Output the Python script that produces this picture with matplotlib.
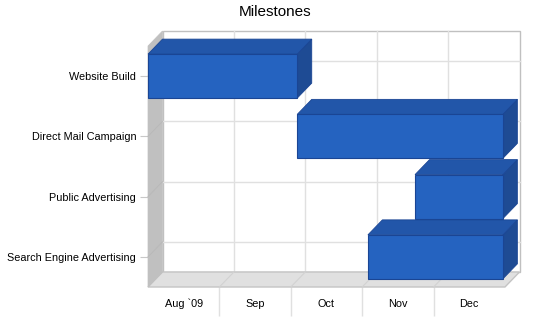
import numpy as np
import matplotlib
matplotlib.use("Agg")
import matplotlib.pyplot as plt
from matplotlib.patches import Polygon, Rectangle

plt.rcParams['font.family'] = ['Liberation Sans', 'DejaVu Sans']

# data (x in months from Aug 1 2009)
tasks = ['Website Build', 'Direct Mail Campaign', 'Public Advertising',
         'Search Engine Advertising']
starts = [0.0, 2.09, 3.74, 3.08]
ends = [2.09, 4.97, 4.97, 4.97]
months = ['Aug `09', 'Sep', 'Oct', 'Nov', 'Dec']

front_c = '#2563c0'
top_c = '#2256a9'
side_c = '#1e4b94'
edge_c = '#1a4594'

fig = plt.figure(figsize=(5.5, 3.18), dpi=100)
ax = fig.add_axes([148/550, 31/318, 357/550, 241/318])
nm = len(months)
nt = len(tasks)
ax.set_xlim(0, nm)
ax.set_ylim(-0.5, nt - 0.5)
ypos = np.arange(nt)[::-1]  # first task on top

# depth of the 3d effect in data units (about 15 px)
dx = 14.5 / 357 * nm
dy = 15 / 60.25

y0, y1 = -0.5, nt - 0.5

# back wall
ax.add_patch(Rectangle((dx, y0 + dy), nm, nt, facecolor='white',
                       edgecolor='#c0c0c0', lw=1, clip_on=False, zorder=1))
for k in range(1, nm):
    ax.plot([k + dx, k + dx], [y0 + dy, y1 + dy], color='#e0e0e0', lw=1,
            clip_on=False, zorder=1.5)
for y in ypos:
    ax.plot([dx, nm + dx], [y + dy, y + dy], color='#e0e0e0', lw=1,
            clip_on=False, zorder=1.5)

# floor
ax.add_patch(Polygon([(0, y0), (nm, y0), (nm + dx, y0 + dy), (dx, y0 + dy)],
                     closed=True, facecolor='#e0e0e0', edgecolor='#c4c4c4',
                     lw=1, clip_on=False, zorder=2))
for k in range(1, nm):
    ax.plot([k, k + dx], [y0, y0 + dy], color='#d2d2d2', lw=0.8,
            clip_on=False, zorder=2.1)

# left wall
ax.add_patch(Polygon([(0, y0), (0, y1), (dx, y1 + dy), (dx, y0 + dy)],
                     closed=True, facecolor='#c0c0c0', edgecolor='#c0c0c0',
                     lw=0.5, clip_on=False, zorder=2.2))
for y in ypos:
    ax.plot([0, dx], [y, y + dy], color='#b8b8b8', lw=0.6,
            clip_on=False, zorder=2.3)

# bars
h = 44 / 60.25
for i, (s, e) in enumerate(zip(starts, ends)):
    y = ypos[i]
    b, t = y - h / 2, y + h / 2
    z = 3 + i
    ax.add_patch(Polygon([(e, b), (e + dx, b + dy), (e + dx, t + dy), (e, t)],
                         closed=True, facecolor=side_c, edgecolor=edge_c,
                         lw=0.6, clip_on=False, zorder=z))
    ax.add_patch(Polygon([(s, t), (e, t), (e + dx, t + dy), (s + dx, t + dy)],
                         closed=True, facecolor=top_c, edgecolor=edge_c,
                         lw=0.6, clip_on=False, zorder=z))
    ax.add_patch(Rectangle((s, b), e - s, h, facecolor=front_c,
                           edgecolor=edge_c, lw=0.8, clip_on=False,
                           zorder=z + 0.1))

for sp in ax.spines.values():
    sp.set_visible(False)

ax.set_yticks(ypos)
ax.set_yticklabels(tasks, fontsize=7.8)
ax.tick_params(axis='y', length=6, color='#c8c8c8', pad=2.5)

ax.set_xticks(np.arange(1, nm))
ax.set_xticklabels([])
ax.tick_params(axis='x', which='major', length=21, color='#e0e0e0', width=1)
ax.set_xticks(np.arange(nm) + 0.5, minor=True)
ax.set_xticklabels(months, minor=True, fontsize=7.8)
ax.tick_params(axis='x', which='minor', length=0, pad=8.5)

fig.text(275/550, 1 - 12/318, 'Milestones', ha='center', va='center',
         fontsize=11)

fig.savefig('out.png', dpi=100)
